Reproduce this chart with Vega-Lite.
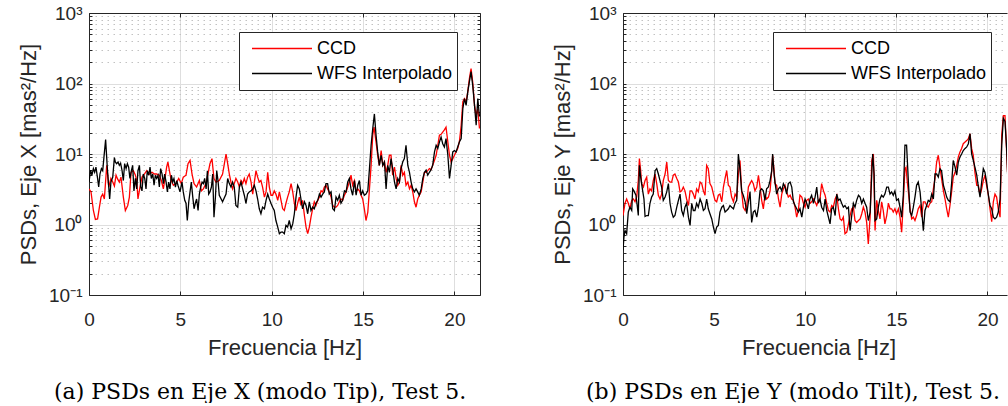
{
"$schema":"https://vega.github.io/schema/vega-lite/v6.json",
"background":"white",
"padding":{"left":17,"top":4,"right":0,"bottom":0},
"config":{
 "view":{"stroke":null},
 "font":"Liberation Sans",
 "axis":{"labelFont":"Liberation Sans","titleFont":"Liberation Sans","labelColor":"#262626","titleColor":"#262626","domainColor":"#262626","tickColor":"#262626","labelFontSize":19,"titleFontSize":22,"titleFontWeight":"normal","domainWidth":1,"tickWidth":1,"labelOverlap":false,"labelBound":false,"labelFlush":false},
 "title":{"font":"DejaVu Serif","fontSize":22,"fontWeight":"normal","color":"#000000"}
},
"datasets":{
"aC":[{"f":0,"v":3.2},{"f":0.11,"v":2.9},{"f":0.24,"v":1.58},{"f":0.35,"v":1.18},{"f":0.47,"v":1.2},{"f":0.57,"v":1.76},{"f":0.66,"v":2.45},{"f":0.75,"v":2.7},{"f":0.84,"v":2.3},{"f":0.97,"v":6.9},{"f":1.08,"v":3.4},{"f":1.2,"v":4.5},{"f":1.3,"v":4.0},{"f":1.39,"v":3.5},{"f":1.48,"v":5.0},{"f":1.57,"v":4.4},{"f":1.66,"v":4.0},{"f":1.75,"v":4.7},{"f":1.88,"v":2.45},{"f":1.99,"v":1.58},{"f":2.12,"v":1.86},{"f":2.21,"v":2.45},{"f":2.3,"v":5.5},{"f":2.43,"v":5.8},{"f":2.54,"v":5.0},{"f":2.61,"v":4.2},{"f":2.68,"v":2.3},{"f":2.79,"v":3.4},{"f":2.9,"v":4.7},{"f":3.03,"v":5.2},{"f":3.16,"v":5.8},{"f":3.3,"v":5.2},{"f":3.45,"v":5.5},{"f":3.58,"v":5.2},{"f":3.7,"v":5.2},{"f":3.85,"v":5.0},{"f":3.96,"v":4.2},{"f":4.07,"v":3.2},{"f":4.14,"v":4.2},{"f":4.25,"v":6.5},{"f":4.32,"v":7.7},{"f":4.4,"v":5.8},{"f":4.5,"v":4.2},{"f":4.62,"v":3.6},{"f":4.76,"v":3.8},{"f":4.91,"v":4.5},{"f":5.05,"v":3.8},{"f":5.16,"v":4.7},{"f":5.31,"v":5.0},{"f":5.42,"v":7.3},{"f":5.53,"v":8.1},{"f":5.64,"v":5.2},{"f":5.75,"v":3.8},{"f":5.89,"v":3.4},{"f":6.04,"v":4.2},{"f":6.15,"v":3.0},{"f":6.26,"v":3.2},{"f":6.4,"v":3.8},{"f":6.51,"v":5.2},{"f":6.62,"v":7.3},{"f":6.73,"v":8.6},{"f":6.84,"v":4.5},{"f":6.95,"v":4.0},{"f":7.13,"v":4.2},{"f":7.31,"v":5.2},{"f":7.41,"v":7.3},{"f":7.5,"v":10},{"f":7.59,"v":7.3},{"f":7.68,"v":5.2},{"f":7.77,"v":4.0},{"f":7.86,"v":3.2},{"f":7.95,"v":3.8},{"f":8.04,"v":4.5},{"f":8.14,"v":4.0},{"f":8.23,"v":3.4},{"f":8.32,"v":4.2},{"f":8.41,"v":3.8},{"f":8.5,"v":4.5},{"f":8.59,"v":3.8},{"f":8.68,"v":4.7},{"f":8.77,"v":5.2},{"f":8.87,"v":4.0},{"f":8.96,"v":2.7},{"f":9.05,"v":4.0},{"f":9.14,"v":5.8},{"f":9.23,"v":4.7},{"f":9.32,"v":4.0},{"f":9.41,"v":4.2},{"f":9.5,"v":3.4},{"f":9.6,"v":2.45},{"f":9.69,"v":2.9},{"f":9.78,"v":5.5},{"f":9.87,"v":3.4},{"f":9.96,"v":2.6},{"f":10.05,"v":2.6},{"f":10.14,"v":3.0},{"f":10.23,"v":2.7},{"f":10.33,"v":2.2},{"f":10.42,"v":2.9},{"f":10.51,"v":2.2},{"f":10.6,"v":1.67},{"f":10.69,"v":1.58},{"f":10.78,"v":2.0},{"f":10.87,"v":2.45},{"f":10.96,"v":2.9},{"f":11.06,"v":3.8},{"f":11.15,"v":2.9},{"f":11.24,"v":2.0},{"f":11.33,"v":1.58},{"f":11.42,"v":2.0},{"f":11.51,"v":2.45},{"f":11.6,"v":1.86},{"f":11.69,"v":2.2},{"f":11.79,"v":1.34},{"f":11.88,"v":0.92},{"f":11.97,"v":0.74},{"f":12.06,"v":0.92},{"f":12.15,"v":1.27},{"f":12.24,"v":1.67},{"f":12.33,"v":2.1},{"f":12.42,"v":1.86},{"f":12.52,"v":2.2},{"f":12.61,"v":2.45},{"f":12.7,"v":3.0},{"f":12.79,"v":2.9},{"f":12.88,"v":3.4},{"f":12.97,"v":3.6},{"f":13.06,"v":3.2},{"f":13.15,"v":2.9},{"f":13.25,"v":2.45},{"f":13.34,"v":1.86},{"f":13.43,"v":1.76},{"f":13.52,"v":1.76},{"f":13.61,"v":1.86},{"f":13.7,"v":2.1},{"f":13.79,"v":2.3},{"f":13.88,"v":2.2},{"f":13.98,"v":2.6},{"f":14.07,"v":2.9},{"f":14.25,"v":4.0},{"f":14.34,"v":5.0},{"f":14.43,"v":3.6},{"f":14.53,"v":4.2},{"f":14.62,"v":2.9},{"f":14.71,"v":3.2},{"f":14.8,"v":3.0},{"f":14.89,"v":2.6},{"f":14.98,"v":2.3},{"f":15.07,"v":1.67},{"f":15.16,"v":1.14},{"f":15.26,"v":1.5},{"f":15.35,"v":3.2},{"f":15.44,"v":6.9},{"f":15.53,"v":18.5},{"f":15.6,"v":24},{"f":15.71,"v":14.8},{"f":15.8,"v":9.6},{"f":15.89,"v":6.9},{"f":15.99,"v":11.2},{"f":16.08,"v":6.9},{"f":16.17,"v":7.7},{"f":16.26,"v":5.5},{"f":16.35,"v":6.9},{"f":16.44,"v":9.6},{"f":16.53,"v":9.6},{"f":16.62,"v":5.0},{"f":16.72,"v":6.5},{"f":16.81,"v":4.5},{"f":16.9,"v":3.6},{"f":16.99,"v":4.0},{"f":17.08,"v":6.9},{"f":17.17,"v":5.0},{"f":17.26,"v":5.5},{"f":17.35,"v":3.6},{"f":17.45,"v":4.0},{"f":17.54,"v":3.2},{"f":17.63,"v":3.6},{"f":17.72,"v":2.9},{"f":17.81,"v":2.1},{"f":17.9,"v":1.76},{"f":17.99,"v":2.3},{"f":18.08,"v":2.6},{"f":18.18,"v":2.9},{"f":18.27,"v":4.0},{"f":18.36,"v":5.5},{"f":18.45,"v":5.5},{"f":18.54,"v":5.8},{"f":18.63,"v":6.2},{"f":18.72,"v":6.0},{"f":18.81,"v":6.9},{"f":18.9,"v":8.0},{"f":19.0,"v":9.6},{"f":19.09,"v":13.3},{"f":19.18,"v":18.5},{"f":19.27,"v":19},{"f":19.36,"v":20.5},{"f":19.45,"v":22},{"f":19.54,"v":24},{"f":19.64,"v":14.8},{"f":19.73,"v":9.6},{"f":19.82,"v":7.7},{"f":19.91,"v":8.6},{"f":20.0,"v":9.6},{"f":20.09,"v":10.7},{"f":20.18,"v":12},{"f":20.27,"v":14.8},{"f":20.37,"v":25.6},{"f":20.46,"v":55},{"f":20.55,"v":61},{"f":20.64,"v":55},{"f":20.73,"v":76},{"f":20.82,"v":117},{"f":20.91,"v":163},{"f":21.0,"v":106},{"f":21.1,"v":49},{"f":21.19,"v":35},{"f":21.28,"v":44},{"f":21.37,"v":23}],
"aW":[{"f":0,"v":4.0},{"f":0.09,"v":5.9},{"f":0.16,"v":5.0},{"f":0.24,"v":6.2},{"f":0.31,"v":5.5},{"f":0.38,"v":6.5},{"f":0.47,"v":4.5},{"f":0.53,"v":3.4},{"f":0.6,"v":5.2},{"f":0.68,"v":6.2},{"f":0.75,"v":5.8},{"f":0.82,"v":9.1},{"f":0.91,"v":16},{"f":1.0,"v":6.5},{"f":1.08,"v":3.4},{"f":1.13,"v":2.3},{"f":1.2,"v":4.0},{"f":1.3,"v":4.7},{"f":1.39,"v":8.9},{"f":1.44,"v":7.7},{"f":1.51,"v":7.3},{"f":1.59,"v":7.7},{"f":1.66,"v":6.9},{"f":1.73,"v":7.4},{"f":1.81,"v":5.8},{"f":1.88,"v":4.2},{"f":1.95,"v":7.3},{"f":2.03,"v":6.2},{"f":2.1,"v":7.3},{"f":2.17,"v":6.5},{"f":2.24,"v":4.5},{"f":2.32,"v":5.8},{"f":2.39,"v":6.9},{"f":2.46,"v":3.0},{"f":2.54,"v":4.5},{"f":2.61,"v":3.2},{"f":2.68,"v":5.8},{"f":2.76,"v":6.9},{"f":2.83,"v":3.4},{"f":2.9,"v":3.0},{"f":2.97,"v":5.2},{"f":3.05,"v":4.5},{"f":3.12,"v":3.2},{"f":3.19,"v":5.8},{"f":3.27,"v":5.0},{"f":3.34,"v":6.5},{"f":3.41,"v":4.5},{"f":3.49,"v":5.2},{"f":3.56,"v":3.6},{"f":3.63,"v":5.0},{"f":3.7,"v":4.5},{"f":3.78,"v":5.0},{"f":3.85,"v":3.4},{"f":3.92,"v":6.2},{"f":4.0,"v":5.2},{"f":4.07,"v":3.8},{"f":4.14,"v":5.2},{"f":4.22,"v":4.0},{"f":4.29,"v":2.9},{"f":4.36,"v":4.0},{"f":4.43,"v":3.2},{"f":4.51,"v":5.0},{"f":4.58,"v":4.0},{"f":4.65,"v":4.5},{"f":4.73,"v":3.4},{"f":4.8,"v":4.2},{"f":4.87,"v":3.6},{"f":4.98,"v":2.9},{"f":5.09,"v":4.0},{"f":5.16,"v":2.9},{"f":5.24,"v":2.2},{"f":5.31,"v":2.0},{"f":5.38,"v":1.14},{"f":5.46,"v":2.1},{"f":5.53,"v":2.9},{"f":5.6,"v":4.0},{"f":5.68,"v":2.45},{"f":5.75,"v":1.67},{"f":5.82,"v":2.0},{"f":5.89,"v":2.3},{"f":5.97,"v":1.58},{"f":6.04,"v":2.7},{"f":6.11,"v":3.4},{"f":6.19,"v":4.0},{"f":6.26,"v":3.8},{"f":6.33,"v":4.5},{"f":6.41,"v":3.2},{"f":6.48,"v":5.8},{"f":6.55,"v":2.7},{"f":6.62,"v":2.9},{"f":6.7,"v":3.4},{"f":6.77,"v":5.2},{"f":6.84,"v":1.27},{"f":6.92,"v":2.45},{"f":6.99,"v":5.8},{"f":7.06,"v":4.2},{"f":7.13,"v":2.6},{"f":7.31,"v":2.1},{"f":7.5,"v":2.7},{"f":7.59,"v":4.5},{"f":7.68,"v":3.8},{"f":7.77,"v":3.4},{"f":7.86,"v":4.0},{"f":7.95,"v":3.4},{"f":8.04,"v":1.86},{"f":8.14,"v":1.76},{"f":8.23,"v":3.4},{"f":8.32,"v":4.0},{"f":8.41,"v":3.2},{"f":8.5,"v":2.6},{"f":8.59,"v":2.0},{"f":8.68,"v":2.7},{"f":8.77,"v":2.9},{"f":8.87,"v":3.0},{"f":8.96,"v":3.2},{"f":9.05,"v":3.6},{"f":9.14,"v":3.0},{"f":9.23,"v":2.3},{"f":9.32,"v":1.67},{"f":9.41,"v":1.42},{"f":9.5,"v":1.76},{"f":9.6,"v":1.67},{"f":9.69,"v":2.2},{"f":9.78,"v":2.7},{"f":9.87,"v":2.3},{"f":9.96,"v":2.0},{"f":10.05,"v":1.76},{"f":10.14,"v":1.58},{"f":10.23,"v":1.14},{"f":10.33,"v":0.92},{"f":10.42,"v":0.74},{"f":10.51,"v":0.78},{"f":10.6,"v":0.78},{"f":10.69,"v":0.74},{"f":10.78,"v":0.97},{"f":10.87,"v":0.92},{"f":10.96,"v":1.14},{"f":11.06,"v":0.87},{"f":11.15,"v":1.02},{"f":11.24,"v":1.42},{"f":11.33,"v":2.45},{"f":11.42,"v":3.6},{"f":11.51,"v":3.2},{"f":11.6,"v":2.3},{"f":11.69,"v":1.67},{"f":11.79,"v":2.1},{"f":11.88,"v":1.86},{"f":11.97,"v":1.42},{"f":12.06,"v":2.1},{"f":12.15,"v":1.58},{"f":12.24,"v":1.76},{"f":12.33,"v":1.67},{"f":12.42,"v":2.0},{"f":12.52,"v":2.2},{"f":12.61,"v":2.7},{"f":12.7,"v":2.45},{"f":12.79,"v":2.7},{"f":12.88,"v":2.9},{"f":12.97,"v":3.8},{"f":13.06,"v":3.8},{"f":13.15,"v":2.7},{"f":13.25,"v":2.9},{"f":13.34,"v":1.67},{"f":13.43,"v":1.58},{"f":13.52,"v":2.45},{"f":13.61,"v":2.2},{"f":13.7,"v":2.6},{"f":13.79,"v":2.0},{"f":13.88,"v":2.2},{"f":13.98,"v":3.0},{"f":14.07,"v":2.9},{"f":14.16,"v":4.0},{"f":14.25,"v":4.5},{"f":14.34,"v":3.2},{"f":14.43,"v":2.6},{"f":14.53,"v":4.2},{"f":14.62,"v":2.6},{"f":14.71,"v":3.6},{"f":14.8,"v":4.2},{"f":14.89,"v":2.6},{"f":14.98,"v":3.0},{"f":15.07,"v":2.6},{"f":15.16,"v":2.7},{"f":15.26,"v":3.0},{"f":15.35,"v":6.2},{"f":15.44,"v":13.3},{"f":15.53,"v":23},{"f":15.62,"v":37},{"f":15.71,"v":18.5},{"f":15.8,"v":10.7},{"f":15.89,"v":6.9},{"f":15.99,"v":9.6},{"f":16.08,"v":6.9},{"f":16.17,"v":7.7},{"f":16.26,"v":3.2},{"f":16.35,"v":6.9},{"f":16.44,"v":5.5},{"f":16.53,"v":8.6},{"f":16.62,"v":6.2},{"f":16.72,"v":4.0},{"f":16.81,"v":3.2},{"f":16.9,"v":4.5},{"f":16.99,"v":4.0},{"f":17.08,"v":6.2},{"f":17.17,"v":7.7},{"f":17.26,"v":8.6},{"f":17.35,"v":13.3},{"f":17.45,"v":6.9},{"f":17.54,"v":5.5},{"f":17.63,"v":4.0},{"f":17.72,"v":3.2},{"f":17.81,"v":2.9},{"f":17.9,"v":3.2},{"f":17.99,"v":2.9},{"f":18.08,"v":2.6},{"f":18.18,"v":3.2},{"f":18.27,"v":4.5},{"f":18.36,"v":5.5},{"f":18.45,"v":5.9},{"f":18.54,"v":5.0},{"f":18.63,"v":5.5},{"f":18.72,"v":6.0},{"f":18.81,"v":6.9},{"f":18.91,"v":10.7},{"f":19.0,"v":13.3},{"f":19.09,"v":12},{"f":19.18,"v":14.8},{"f":19.27,"v":17.4},{"f":19.36,"v":14},{"f":19.45,"v":12.6},{"f":19.54,"v":16.5},{"f":19.64,"v":9.6},{"f":19.73,"v":4.5},{"f":19.82,"v":6.9},{"f":19.91,"v":10.7},{"f":20.0,"v":11.2},{"f":20.09,"v":10.7},{"f":20.18,"v":12.6},{"f":20.27,"v":14.8},{"f":20.37,"v":16.5},{"f":20.46,"v":44},{"f":20.55,"v":61},{"f":20.64,"v":49},{"f":20.73,"v":76},{"f":20.82,"v":106},{"f":20.91,"v":147},{"f":21.0,"v":95},{"f":21.1,"v":49},{"f":21.19,"v":25.6},{"f":21.28,"v":61},{"f":21.37,"v":34}],
"bC":[{"f":0,"v":1.34},{"f":0.11,"v":2.0},{"f":0.2,"v":2.3},{"f":0.29,"v":2.0},{"f":0.38,"v":1.67},{"f":0.48,"v":2.2},{"f":0.57,"v":2.3},{"f":0.66,"v":2.1},{"f":0.75,"v":2.45},{"f":0.84,"v":4.2},{"f":0.9,"v":8.6},{"f":0.97,"v":5.8},{"f":1.02,"v":3.8},{"f":1.12,"v":3.4},{"f":1.21,"v":4.2},{"f":1.3,"v":4.7},{"f":1.39,"v":2.7},{"f":1.48,"v":3.2},{"f":1.57,"v":3.0},{"f":1.66,"v":4.2},{"f":1.76,"v":5.2},{"f":1.85,"v":3.8},{"f":1.94,"v":2.6},{"f":2.03,"v":2.3},{"f":2.12,"v":2.7},{"f":2.21,"v":4.2},{"f":2.31,"v":5.2},{"f":2.4,"v":7.7},{"f":2.49,"v":4.2},{"f":2.58,"v":4.0},{"f":2.67,"v":4.0},{"f":2.76,"v":5.0},{"f":2.85,"v":5.2},{"f":2.95,"v":4.5},{"f":3.04,"v":4.0},{"f":3.13,"v":2.9},{"f":3.22,"v":3.0},{"f":3.31,"v":3.4},{"f":3.4,"v":3.0},{"f":3.49,"v":2.3},{"f":3.59,"v":1.86},{"f":3.68,"v":3.0},{"f":3.77,"v":3.0},{"f":3.86,"v":2.7},{"f":3.95,"v":2.3},{"f":4.04,"v":3.2},{"f":4.13,"v":2.9},{"f":4.23,"v":4.0},{"f":4.32,"v":3.8},{"f":4.41,"v":3.0},{"f":4.5,"v":2.6},{"f":4.59,"v":6.9},{"f":4.68,"v":6.2},{"f":4.77,"v":3.8},{"f":4.87,"v":3.4},{"f":4.96,"v":2.7},{"f":5.05,"v":2.2},{"f":5.14,"v":2.1},{"f":5.23,"v":2.6},{"f":5.32,"v":2.7},{"f":5.42,"v":2.1},{"f":5.51,"v":3.4},{"f":5.6,"v":4.5},{"f":5.69,"v":5.8},{"f":5.78,"v":3.6},{"f":5.87,"v":3.4},{"f":5.96,"v":2.45},{"f":6.06,"v":2.1},{"f":6.15,"v":2.7},{"f":6.24,"v":2.45},{"f":6.33,"v":5.2},{"f":6.42,"v":8.1},{"f":6.51,"v":3.0},{"f":6.6,"v":1.76},{"f":6.7,"v":1.58},{"f":6.79,"v":1.86},{"f":6.88,"v":3.4},{"f":6.97,"v":3.8},{"f":7.06,"v":4.2},{"f":7.15,"v":3.8},{"f":7.24,"v":3.0},{"f":7.34,"v":3.4},{"f":7.43,"v":5.0},{"f":7.52,"v":3.4},{"f":7.61,"v":2.2},{"f":7.7,"v":1.67},{"f":7.79,"v":2.6},{"f":7.88,"v":2.3},{"f":7.98,"v":2.45},{"f":8.07,"v":3.0},{"f":8.16,"v":5.8},{"f":8.21,"v":9.6},{"f":8.29,"v":5.8},{"f":8.34,"v":3.8},{"f":8.43,"v":3.6},{"f":8.53,"v":2.3},{"f":8.62,"v":1.76},{"f":8.71,"v":2.7},{"f":8.8,"v":3.2},{"f":8.89,"v":3.6},{"f":8.98,"v":2.9},{"f":9.07,"v":2.45},{"f":9.17,"v":2.6},{"f":9.26,"v":2.3},{"f":9.35,"v":2.2},{"f":9.44,"v":1.76},{"f":9.53,"v":1.27},{"f":9.62,"v":1.58},{"f":9.71,"v":2.6},{"f":9.81,"v":2.45},{"f":9.9,"v":2.0},{"f":9.99,"v":1.76},{"f":10.08,"v":2.2},{"f":10.17,"v":2.3},{"f":10.26,"v":2.0},{"f":10.35,"v":2.1},{"f":10.45,"v":2.3},{"f":10.54,"v":2.1},{"f":10.63,"v":1.86},{"f":10.72,"v":2.2},{"f":10.81,"v":2.3},{"f":10.9,"v":3.8},{"f":11.0,"v":3.0},{"f":11.09,"v":2.6},{"f":11.18,"v":2.0},{"f":11.27,"v":1.58},{"f":11.36,"v":1.5},{"f":11.45,"v":1.86},{"f":11.54,"v":1.76},{"f":11.64,"v":2.3},{"f":11.73,"v":2.6},{"f":11.82,"v":1.67},{"f":11.91,"v":1.2},{"f":12.0,"v":1.14},{"f":12.09,"v":1.27},{"f":12.18,"v":0.74},{"f":12.28,"v":0.78},{"f":12.37,"v":1.02},{"f":12.46,"v":1.34},{"f":12.55,"v":1.67},{"f":12.64,"v":1.76},{"f":12.73,"v":1.14},{"f":12.82,"v":1.07},{"f":12.92,"v":1.14},{"f":13.01,"v":1.2},{"f":13.1,"v":1.42},{"f":13.19,"v":1.76},{"f":13.28,"v":1.5},{"f":13.37,"v":1.07},{"f":13.46,"v":0.53},{"f":13.56,"v":1.27},{"f":13.65,"v":8.1},{"f":13.74,"v":10},{"f":13.83,"v":0.82},{"f":13.92,"v":2.2},{"f":14.01,"v":1.58},{"f":14.1,"v":1.2},{"f":14.19,"v":2.1},{"f":14.28,"v":1.58},{"f":14.37,"v":1.02},{"f":14.47,"v":1.34},{"f":14.56,"v":2.0},{"f":14.65,"v":1.67},{"f":14.74,"v":1.67},{"f":14.83,"v":1.5},{"f":14.92,"v":1.67},{"f":15.01,"v":1.42},{"f":15.11,"v":1.67},{"f":15.2,"v":1.27},{"f":15.29,"v":0.78},{"f":15.38,"v":2.1},{"f":15.47,"v":6.2},{"f":15.53,"v":6.5},{"f":15.6,"v":4.0},{"f":15.66,"v":2.9},{"f":15.75,"v":1.67},{"f":15.84,"v":1.2},{"f":15.93,"v":1.27},{"f":16.02,"v":1.14},{"f":16.11,"v":1.34},{"f":16.2,"v":1.67},{"f":16.3,"v":1.86},{"f":16.39,"v":1.27},{"f":16.48,"v":2.1},{"f":16.57,"v":2.1},{"f":16.66,"v":1.86},{"f":16.75,"v":1.76},{"f":16.84,"v":2.0},{"f":16.94,"v":2.1},{"f":17.03,"v":3.2},{"f":17.12,"v":4.5},{"f":17.21,"v":7.7},{"f":17.3,"v":9.6},{"f":17.39,"v":6.5},{"f":17.48,"v":4.5},{"f":17.58,"v":3.0},{"f":17.67,"v":2.3},{"f":17.76,"v":1.67},{"f":17.85,"v":1.27},{"f":17.94,"v":1.86},{"f":18.03,"v":2.9},{"f":18.12,"v":4.7},{"f":18.22,"v":5.5},{"f":18.31,"v":6.9},{"f":18.4,"v":9.1},{"f":18.49,"v":10.7},{"f":18.58,"v":12},{"f":18.67,"v":14},{"f":18.77,"v":14.8},{"f":18.86,"v":15.5},{"f":18.95,"v":16.5},{"f":19.04,"v":19.4},{"f":19.13,"v":12},{"f":19.22,"v":9.6},{"f":19.31,"v":5.5},{"f":19.41,"v":3.6},{"f":19.5,"v":3.6},{"f":19.59,"v":2.6},{"f":19.68,"v":3.2},{"f":19.77,"v":4.2},{"f":19.86,"v":5.0},{"f":19.95,"v":3.6},{"f":20.05,"v":2.6},{"f":20.14,"v":1.67},{"f":20.23,"v":1.1},{"f":20.32,"v":2.1},{"f":20.41,"v":2.7},{"f":20.5,"v":2.45},{"f":20.59,"v":1.67},{"f":20.69,"v":1.27},{"f":20.78,"v":18.5},{"f":20.87,"v":35},{"f":20.96,"v":35},{"f":21.05,"v":10.7},{"f":21.1,"v":5.5}],
"bW":[{"f":0,"v":0.43},{"f":0.05,"v":0.66},{"f":0.11,"v":0.82},{"f":0.2,"v":0.74},{"f":0.29,"v":1.5},{"f":0.38,"v":1.76},{"f":0.48,"v":1.58},{"f":0.53,"v":3.2},{"f":0.6,"v":3.0},{"f":0.71,"v":2.6},{"f":0.79,"v":1.76},{"f":0.84,"v":1.34},{"f":0.9,"v":6.9},{"f":0.97,"v":4.7},{"f":1.08,"v":3.0},{"f":1.15,"v":2.3},{"f":1.21,"v":1.3},{"f":1.3,"v":1.34},{"f":1.39,"v":1.34},{"f":1.48,"v":2.0},{"f":1.57,"v":2.45},{"f":1.66,"v":2.7},{"f":1.76,"v":5.8},{"f":1.85,"v":6.2},{"f":1.94,"v":5.2},{"f":2.03,"v":4.2},{"f":2.12,"v":3.4},{"f":2.21,"v":2.2},{"f":2.31,"v":2.45},{"f":2.4,"v":2.9},{"f":2.49,"v":3.8},{"f":2.58,"v":2.0},{"f":2.67,"v":1.5},{"f":2.76,"v":1.27},{"f":2.85,"v":1.34},{"f":2.95,"v":1.76},{"f":3.04,"v":2.2},{"f":3.13,"v":2.7},{"f":3.22,"v":1.58},{"f":3.31,"v":1.34},{"f":3.4,"v":1.76},{"f":3.49,"v":2.0},{"f":3.59,"v":1.27},{"f":3.68,"v":0.97},{"f":3.77,"v":2.0},{"f":3.86,"v":1.58},{"f":3.95,"v":1.58},{"f":4.04,"v":2.0},{"f":4.13,"v":1.76},{"f":4.23,"v":2.3},{"f":4.32,"v":2.0},{"f":4.41,"v":1.58},{"f":4.5,"v":1.67},{"f":4.59,"v":2.3},{"f":4.68,"v":1.67},{"f":4.77,"v":1.42},{"f":4.87,"v":1.2},{"f":4.96,"v":0.92},{"f":5.05,"v":0.74},{"f":5.14,"v":0.92},{"f":5.23,"v":0.97},{"f":5.32,"v":1.5},{"f":5.42,"v":1.76},{"f":5.51,"v":1.86},{"f":5.6,"v":1.5},{"f":5.69,"v":1.58},{"f":5.78,"v":1.67},{"f":5.87,"v":1.86},{"f":5.96,"v":1.76},{"f":6.06,"v":1.67},{"f":6.15,"v":2.0},{"f":6.24,"v":2.2},{"f":6.33,"v":10},{"f":6.42,"v":6.0},{"f":6.51,"v":3.0},{"f":6.6,"v":2.6},{"f":6.7,"v":2.1},{"f":6.79,"v":1.42},{"f":6.88,"v":2.1},{"f":6.97,"v":2.9},{"f":7.06,"v":1.07},{"f":7.15,"v":1.5},{"f":7.24,"v":1.58},{"f":7.34,"v":1.27},{"f":7.43,"v":1.76},{"f":7.52,"v":3.0},{"f":7.61,"v":3.2},{"f":7.7,"v":3.0},{"f":7.79,"v":2.2},{"f":7.88,"v":3.2},{"f":7.98,"v":3.4},{"f":8.07,"v":4.2},{"f":8.16,"v":5.8},{"f":8.21,"v":10},{"f":8.29,"v":5.2},{"f":8.34,"v":4.0},{"f":8.43,"v":2.7},{"f":8.53,"v":3.2},{"f":8.62,"v":3.4},{"f":8.71,"v":3.0},{"f":8.8,"v":3.8},{"f":8.89,"v":3.4},{"f":8.98,"v":2.7},{"f":9.07,"v":3.8},{"f":9.17,"v":4.0},{"f":9.26,"v":3.4},{"f":9.35,"v":2.1},{"f":9.44,"v":1.86},{"f":9.53,"v":1.67},{"f":9.62,"v":1.5},{"f":9.71,"v":1.67},{"f":9.81,"v":1.27},{"f":9.9,"v":1.76},{"f":9.99,"v":2.3},{"f":10.08,"v":2.0},{"f":10.17,"v":1.67},{"f":10.26,"v":2.3},{"f":10.35,"v":2.6},{"f":10.45,"v":2.0},{"f":10.54,"v":2.45},{"f":10.63,"v":3.4},{"f":10.72,"v":2.0},{"f":10.81,"v":2.3},{"f":10.9,"v":1.76},{"f":11.0,"v":1.58},{"f":11.09,"v":2.3},{"f":11.18,"v":1.58},{"f":11.27,"v":1.27},{"f":11.36,"v":1.02},{"f":11.45,"v":1.67},{"f":11.54,"v":1.76},{"f":11.64,"v":1.34},{"f":11.73,"v":2.7},{"f":11.82,"v":2.2},{"f":11.91,"v":2.3},{"f":12.0,"v":2.0},{"f":12.09,"v":1.76},{"f":12.18,"v":1.86},{"f":12.28,"v":1.67},{"f":12.37,"v":1.76},{"f":12.46,"v":0.82},{"f":12.55,"v":1.34},{"f":12.64,"v":2.0},{"f":12.73,"v":1.76},{"f":12.82,"v":2.2},{"f":12.92,"v":2.6},{"f":13.01,"v":2.45},{"f":13.1,"v":2.0},{"f":13.19,"v":2.3},{"f":13.28,"v":2.0},{"f":13.37,"v":1.76},{"f":13.46,"v":1.14},{"f":13.56,"v":1.5},{"f":13.65,"v":5.2},{"f":13.7,"v":10},{"f":13.78,"v":5.2},{"f":13.83,"v":1.14},{"f":13.92,"v":1.2},{"f":14.01,"v":1.76},{"f":14.1,"v":2.3},{"f":14.19,"v":2.6},{"f":14.28,"v":2.45},{"f":14.37,"v":2.7},{"f":14.47,"v":3.4},{"f":14.56,"v":3.4},{"f":14.65,"v":2.7},{"f":14.74,"v":2.9},{"f":14.83,"v":2.6},{"f":14.92,"v":3.0},{"f":15.01,"v":2.2},{"f":15.11,"v":2.3},{"f":15.2,"v":1.76},{"f":15.29,"v":1.27},{"f":15.38,"v":2.6},{"f":15.47,"v":13.3},{"f":15.56,"v":13.3},{"f":15.66,"v":4.0},{"f":15.75,"v":1.5},{"f":15.84,"v":1.34},{"f":15.93,"v":1.76},{"f":16.02,"v":2.45},{"f":16.11,"v":3.6},{"f":16.2,"v":4.0},{"f":16.3,"v":2.9},{"f":16.39,"v":1.58},{"f":16.48,"v":0.82},{"f":16.57,"v":1.58},{"f":16.66,"v":1.86},{"f":16.75,"v":2.2},{"f":16.84,"v":2.1},{"f":16.94,"v":2.7},{"f":17.03,"v":2.3},{"f":17.12,"v":5.2},{"f":17.21,"v":5.2},{"f":17.3,"v":4.7},{"f":17.39,"v":6.2},{"f":17.48,"v":5.8},{"f":17.58,"v":3.6},{"f":17.67,"v":3.0},{"f":17.76,"v":2.45},{"f":17.85,"v":2.2},{"f":17.94,"v":2.1},{"f":18.03,"v":3.8},{"f":18.12,"v":8.1},{"f":18.22,"v":6.5},{"f":18.31,"v":5.0},{"f":18.4,"v":7.7},{"f":18.49,"v":9.1},{"f":18.58,"v":10},{"f":18.67,"v":11.2},{"f":18.77,"v":12},{"f":18.86,"v":12.6},{"f":18.95,"v":14},{"f":19.04,"v":19.4},{"f":19.13,"v":10},{"f":19.22,"v":8.1},{"f":19.31,"v":6.5},{"f":19.41,"v":5.0},{"f":19.5,"v":3.4},{"f":19.59,"v":2.45},{"f":19.68,"v":4.0},{"f":19.77,"v":6.2},{"f":19.86,"v":5.5},{"f":19.95,"v":4.0},{"f":20.05,"v":2.6},{"f":20.14,"v":1.86},{"f":20.23,"v":1.67},{"f":20.32,"v":1.27},{"f":20.41,"v":1.2},{"f":20.5,"v":1.27},{"f":20.59,"v":1.5},{"f":20.69,"v":2.3},{"f":20.78,"v":13.3},{"f":20.87,"v":32},{"f":20.96,"v":29},{"f":21.05,"v":12},{"f":21.12,"v":4.0}]
},
"resolve":{"scale":{"color":"independent"},"legend":{"color":"independent"}},
"bounds":"flush",
"spacing":143,
"hconcat":[
{
 "width":391,"height":282,
 "title":{"text":"(a) PSDs en Eje X (modo Tip), Test 5.","orient":"bottom","anchor":"start","frame":"group","dx":-35,"offset":24},
 "resolve":{"axis":{"x":"independent","y":"independent"}},
 "layer":[
  {"data":{"name":"aC"},"mark":{"type":"line","strokeWidth":1.3,"clip":true},
   "encoding":{
    "x":{"field":"f","type":"quantitative","scale":{"domain":[0,21.4],"nice":false,"zero":false},
     "axis":{"orient":"bottom","values":[0,5,10,15,20],"title":"Frecuencia [Hz]","tickSize":-4,"labelPadding":19,"titlePadding":8,"grid":true,"gridColor":"#dedede"}},
    "y":{"field":"v","type":"quantitative","scale":{"type":"log","domain":[0.1,1000],"nice":false},
     "axis":{"orient":"left","values":[0.1,0.2,0.3,0.4,0.5,0.6,0.7,0.8,0.9,1,2,3,4,5,6,7,8,9,10,20,30,40,50,60,70,80,90,100,200,300,400,500,600,700,800,900,1000],
      "title":"PSDs, Eje X [mas²/Hz]","tickSize":-3,"labelPadding":10,"titlePadding":8,"grid":true,
      "gridColor":{"condition":{"test":"indexof([0.1,1,10,100,1000], datum.value) >= 0","value":"#dedede"},"value":"#c2c2c2"},
      "gridDash":{"condition":{"test":"indexof([0.1,1,10,100,1000], datum.value) >= 0","value":[]},"value":[1.5,4.5]},
      "labelExpr":"datum.value==1000?'10³':datum.value==100?'10²':datum.value==10?'10¹':datum.value==1?'10⁰':datum.value==0.1?'10⁻¹':''"}},
    "color":{"datum":"CCD","type":"nominal","scale":{"domain":["CCD","WFS Interpolado"],"range":["#ff0000","#000000"]},
     "legend":{"title":null,"orient":"none","legendX":150,"legendY":19,"direction":"vertical","fillColor":"white","strokeColor":"#262626","padding":4,"symbolType":"stroke","symbolSize":3600,"symbolStrokeWidth":1.3,"clipHeight":25,"rowPadding":0,"labelFont":"Liberation Sans","labelFontSize":18,"labelColor":"#000000","labelOffset":4,"labelLimit":300,"symbolOffset":8}}
   }},
  {"data":{"name":"aW"},"mark":{"type":"line","strokeWidth":1.3,"clip":true},
   "encoding":{
    "x":{"field":"f","type":"quantitative","axis":null},
    "y":{"field":"v","type":"quantitative","axis":null},
    "color":{"datum":"WFS Interpolado","type":"nominal"}
   }},
  {"data":{"name":"aC"},"mark":{"type":"point","opacity":0},
   "encoding":{
    "x":{"field":"f","type":"quantitative","axis":{"orient":"top","values":[0,5,10,15,20],"labels":false,"grid":false,"tickSize":-4,"title":null}},
    "y":{"field":"v","type":"quantitative","axis":{"orient":"right","values":[0.1,0.2,0.3,0.4,0.5,0.6,0.7,0.8,0.9,1,2,3,4,5,6,7,8,9,10,20,30,40,50,60,70,80,90,100,200,300,400,500,600,700,800,900,1000],"labels":false,"grid":false,"tickSize":-3,"title":null}}
   }}
 ]
},
{
 "width":384,"height":282,
 "title":{"text":"(b) PSDs en Eje Y (modo Tilt), Test 5.","orient":"bottom","anchor":"start","frame":"group","dx":-37,"offset":24},
 "resolve":{"axis":{"x":"independent","y":"independent"}},
 "layer":[
  {"data":{"name":"bC"},"mark":{"type":"line","strokeWidth":1.3,"clip":true},
   "encoding":{
    "x":{"field":"f","type":"quantitative","scale":{"domain":[0,21.07],"nice":false,"zero":false},
     "axis":{"orient":"bottom","values":[0,5,10,15,20],"title":"Frecuencia [Hz]","tickSize":-4,"labelPadding":19,"titlePadding":8,"grid":true,"gridColor":"#dedede","titleX":195.5}},
    "y":{"field":"v","type":"quantitative","scale":{"type":"log","domain":[0.1,1000],"nice":false},
     "axis":{"orient":"left","values":[0.1,0.2,0.3,0.4,0.5,0.6,0.7,0.8,0.9,1,2,3,4,5,6,7,8,9,10,20,30,40,50,60,70,80,90,100,200,300,400,500,600,700,800,900,1000],
      "title":"PSDs, Eje Y [mas²/Hz]","tickSize":-3,"labelPadding":10,"titlePadding":8,"grid":true,
      "gridColor":{"condition":{"test":"indexof([0.1,1,10,100,1000], datum.value) >= 0","value":"#dedede"},"value":"#c2c2c2"},
      "gridDash":{"condition":{"test":"indexof([0.1,1,10,100,1000], datum.value) >= 0","value":[]},"value":[1.5,4.5]},
      "labelExpr":"datum.value==1000?'10³':datum.value==100?'10²':datum.value==10?'10¹':datum.value==1?'10⁰':datum.value==0.1?'10⁻¹':''"}},
    "color":{"datum":"CCD","type":"nominal","scale":{"domain":["CCD","WFS Interpolado"],"range":["#ff0000","#000000"]},
     "legend":{"title":null,"orient":"none","legendX":150,"legendY":19,"direction":"vertical","fillColor":"white","strokeColor":"#262626","padding":4,"symbolType":"stroke","symbolSize":3600,"symbolStrokeWidth":1.3,"clipHeight":25,"rowPadding":0,"labelFont":"Liberation Sans","labelFontSize":18,"labelColor":"#000000","labelOffset":4,"labelLimit":300,"symbolOffset":8}}
   }},
  {"data":{"name":"bW"},"mark":{"type":"line","strokeWidth":1.3,"clip":true},
   "encoding":{
    "x":{"field":"f","type":"quantitative","axis":null},
    "y":{"field":"v","type":"quantitative","axis":null},
    "color":{"datum":"WFS Interpolado","type":"nominal"}
   }},
  {"data":{"name":"bC"},"mark":{"type":"point","opacity":0},
   "encoding":{
    "x":{"field":"f","type":"quantitative","axis":{"orient":"top","values":[0,5,10,15,20],"labels":false,"grid":false,"tickSize":-4,"title":null}}
   }}
 ]
}
]
}
